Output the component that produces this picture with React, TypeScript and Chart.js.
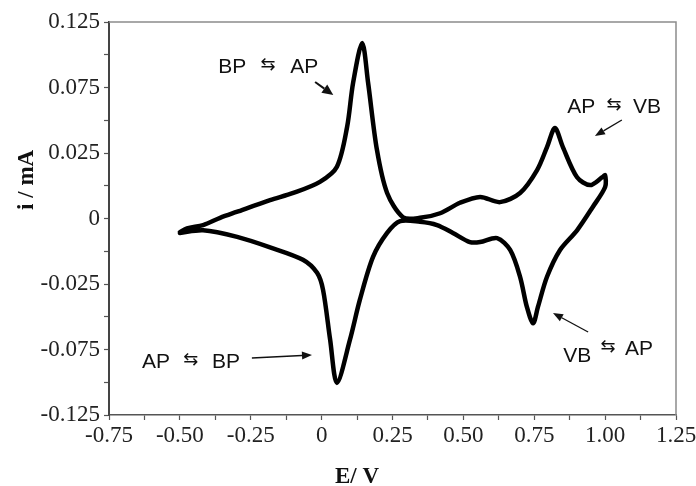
import React, { useEffect, useRef } from 'react';
import { Chart, registerables } from 'chart.js';

Chart.register(...registerables);

// Anodic (forward) sweep, E / V
const upperPotential = [-0.5, -0.475, -0.418, -0.358, -0.3, -0.182, -0.1, -0.006, 0.054, 0.09, 0.111, 0.143, 0.164, 0.195, 0.231, 0.287, 0.347, 0.418, 0.488, 0.559, 0.629, 0.7, 0.76, 0.795, 0.823, 0.851, 0.901, 0.947, 0.99, 1.0];
// current, in axis divisions (one division = one labelled tick step)
const upperCurrent = [-0.21, -0.15, -0.1, 0.01, 0.1, 0.28, 0.39, 0.56, 0.79, 1.4, 2.07, 2.68, 2.07, 1.05, 0.39, 0.02, 0.01, 0.08, 0.24, 0.33, 0.25, 0.39, 0.74, 1.09, 1.38, 1.09, 0.63, 0.51, 0.63, 0.66];

// Cathodic (reverse) sweep, E / V
const lowerPotential = [1.0, 0.957, 0.901, 0.841, 0.795, 0.763, 0.746, 0.724, 0.7, 0.665, 0.619, 0.559, 0.523, 0.463, 0.407, 0.347, 0.277, 0.231, 0.181, 0.135, 0.1, 0.054, 0.03, 0.005, -0.016, -0.066, -0.182, -0.298, -0.418, -0.5];
const lowerCurrent = [0.48, 0.18, -0.18, -0.48, -0.89, -1.35, -1.6, -1.35, -0.89, -0.48, -0.3, -0.36, -0.36, -0.22, -0.1, -0.05, -0.04, -0.22, -0.59, -1.24, -1.85, -2.51, -1.85, -1.09, -0.83, -0.63, -0.44, -0.28, -0.18, -0.22];

const xTickLabels = ['-0.75', '-0.50', '-0.25', '0', '0.25', '0.50', '0.75', '1.00', '1.25'];
const yTickLabels = ['-0.125', '-0.075', '-0.025', '0', '0.025', '0.075', '0.125'];

const xTitle = 'E/ V';
const yTitle = 'i / mA';

// annotation labels: left part, right part, positions in data units
const annotationLabels = [
  { left: 'BP', right: 'AP', x: -0.365, y: 2.22, rx: -0.111, ry: 2.22 },
  { left: 'AP', right: 'VB', x: 0.866, y: 1.61, rx: 1.098, ry: 1.61 },
  { left: 'VB', right: 'AP', x: 0.852, y: -2.19, rx: 1.07, ry: -2.08 },
  { left: 'AP', right: 'BP', x: -0.634, y: -2.28, rx: -0.387, ry: -2.28 },
];

// annotation arrows (from -> to), data units
const annotationArrows = [
  { x0: -0.023, y0: 2.084, x1: 0.041, y1: 1.885, big: true },
  { x0: 1.059, y0: 1.504, x1: 0.964, y1: 1.26, big: false },
  { x0: 0.94, y0: -1.733, x1: 0.816, y1: -1.443, big: false },
  { x0: -0.246, y0: -2.13, x1: -0.034, y1: -2.084, big: false },
];

const overlayPlugin = {
  id: 'overlay',
  afterDraw(chart: any) {
    const { ctx, chartArea: a, scales } = chart;
    const xs = scales.x;
    const ys = scales.y;
    ctx.save();
    // top & right frame
    ctx.strokeStyle = '#8c8c8c';
    ctx.lineWidth = 1.5;
    ctx.beginPath();
    ctx.moveTo(a.left, a.top);
    ctx.lineTo(a.right, a.top);
    ctx.lineTo(a.right, a.bottom);
    ctx.stroke();

    // labels
    ctx.fillStyle = '#111';
    ctx.textBaseline = 'alphabetic';
    for (const l of annotationLabels) {
      const px = xs.getPixelForValue(l.x);
      const py = ys.getPixelForValue(l.y);
      const rpx = xs.getPixelForValue(l.rx);
      const rpy = ys.getPixelForValue(l.ry);
      ctx.font = '21px "Liberation Sans", Arial, sans-serif';
      ctx.textAlign = 'left';
      ctx.fillText(l.left, px, py);
      const lw = ctx.measureText(l.left).width;
      ctx.fillText(l.right, rpx, rpy);
      ctx.font = '18px "DejaVu Sans", sans-serif';
      ctx.textAlign = 'center';
      ctx.textBaseline = 'middle';
      ctx.fillText('\u21C6', (px + lw + rpx) / 2, rpy - 7.5);
      ctx.textBaseline = 'alphabetic';
    }

    // arrows
    ctx.strokeStyle = '#111';
    for (const ar of annotationArrows) {
      const x0 = xs.getPixelForValue(ar.x0);
      const y0 = ys.getPixelForValue(ar.y0);
      const x1 = xs.getPixelForValue(ar.x1);
      const y1 = ys.getPixelForValue(ar.y1);
      const ang = Math.atan2(y1 - y0, x1 - x0);
      const hl = ar.big ? 11 : 10;
      const hw = ar.big ? 5 : 4;
      const bx = x1 - hl * Math.cos(ang);
      const by = y1 - hl * Math.sin(ang);
      ctx.lineWidth = ar.big ? 2 : 1.3;
      ctx.beginPath();
      ctx.moveTo(x0, y0);
      ctx.lineTo(bx, by);
      ctx.stroke();
      ctx.beginPath();
      ctx.moveTo(x1, y1);
      ctx.lineTo(bx + hw * Math.sin(ang), by - hw * Math.cos(ang));
      ctx.lineTo(bx - hw * Math.sin(ang), by + hw * Math.cos(ang));
      ctx.closePath();
      ctx.fill();
    }

    // axis titles
    ctx.fillStyle = '#111';
    ctx.font = 'bold 23px "Liberation Serif", "Times New Roman", serif';
    ctx.textAlign = 'center';
    ctx.textBaseline = 'alphabetic';
    ctx.fillText(xTitle, xs.getPixelForValue(0.125), a.bottom + 68);
    ctx.save();
    ctx.translate(a.left - 76, ys.getPixelForValue(0.59));
    ctx.rotate(-Math.PI / 2);
    ctx.fillText(yTitle, 0, 0);
    ctx.restore();
    ctx.restore();
  },
};

export default function App() {
  const ref = useRef<HTMLCanvasElement | null>(null);

  useEffect(() => {
    if (!ref.current) return;
    const points = [
      ...upperPotential.map((x, i) => ({ x, y: upperCurrent[i] })),
      ...lowerPotential.map((x, i) => ({ x, y: lowerCurrent[i] })),
    ];
    const tickFont = { family: '"Liberation Serif", "Times New Roman", serif', size: 23 };
    const chart = new Chart(ref.current, {
      type: 'line',
      data: {
        datasets: [
          {
            data: points,
            borderColor: '#000',
            borderWidth: 4.5,
            pointRadius: 0,
            tension: 0.3,
            fill: false,
            borderJoinStyle: 'round',
            borderCapStyle: 'round',
          },
        ],
      },
      options: {
        animation: false,
        responsive: false,
        parsing: false as any,
        layout: { padding: { top: 22, right: 20, left: 0, bottom: 0 } },
        plugins: { legend: { display: false }, tooltip: { enabled: false } },
        scales: {
          x: {
            type: 'linear',
            min: -0.75,
            max: 1.25,
            afterFit: (s: any) => {
              s.height = 71;
              s.paddingLeft = 0;
              s.paddingRight = 0;
            },
            ticks: {
              stepSize: 0.125,
              autoSkip: false,
              maxRotation: 0,
              padding: 2,
              color: '#222',
              font: tickFont,
              callback: (_v: any, i: number) => (i % 2 === 0 ? xTickLabels[i / 2] : ''),
            },
            grid: { drawOnChartArea: false, drawTicks: true, tickLength: 5, tickColor: '#555', tickWidth: 1.2 },
            border: { display: true, color: '#555', width: 1.5 },
          },
          y: {
            type: 'linear',
            min: -3,
            max: 3,
            afterFit: (s: any) => {
              s.width = 109;
            },
            ticks: {
              stepSize: 0.5,
              autoSkip: false,
              padding: 4,
              color: '#222',
              font: tickFont,
              callback: (_v: any, i: number) => (i % 2 === 0 ? yTickLabels[i / 2] : ''),
            },
            grid: { drawOnChartArea: false, drawTicks: true, tickLength: 5, tickColor: '#555', tickWidth: 1.2 },
            border: { display: true, color: '#444', width: 2 },
          },
        },
      },
      plugins: [overlayPlugin],
    } as any);
    return () => chart.destroy();
  }, []);

  return (
    <div style={{ position: 'fixed', left: 0, top: 0, width: 696, height: 486, background: '#fff' }}>
      <canvas ref={ref} width={696} height={486} style={{ width: 696, height: 486 }} />
    </div>
  );
}
